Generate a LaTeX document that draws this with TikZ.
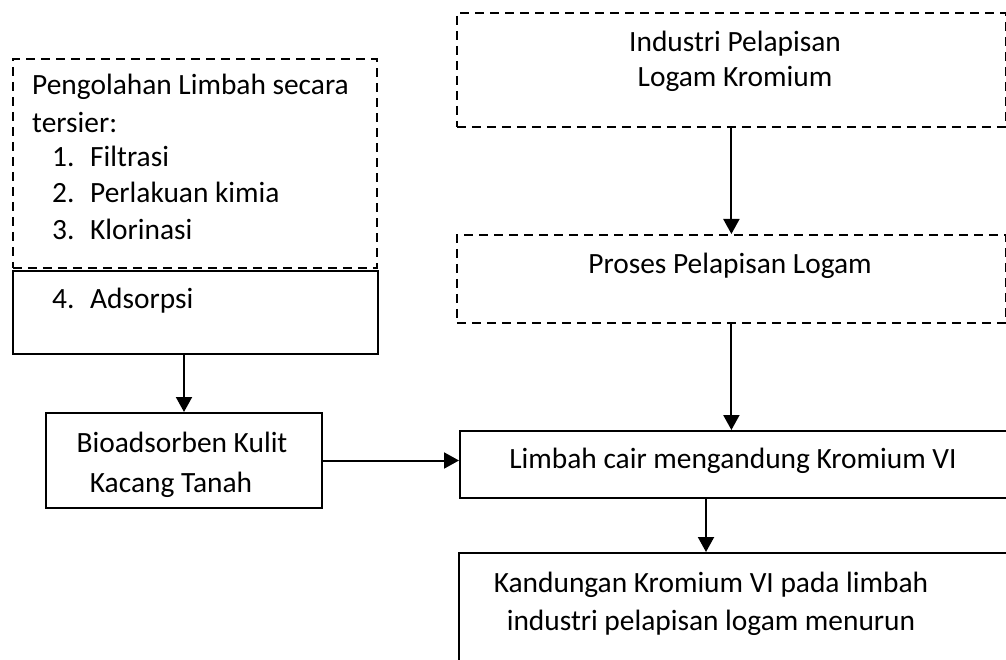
\documentclass[tikz,border=0pt]{standalone}
\usepackage{fontspec}
\setmainfont{Carlito}
\usetikzlibrary{arrows.meta,positioning,calc}

\tikzset{
  kotak/.style={draw,rectangle,line width=2pt,anchor=north west,inner sep=0pt},
  kotakputus/.style={kotak,line width=1.8pt,dash pattern=on 9pt off 6pt},
  teks/.style={inner sep=0pt,font=\fontsize{29.4}{37}\selectfont},
  panah/.style={-{Triangle[width=16pt,length=15pt]},line width=2pt},
}

\begin{document}
\begin{tikzpicture}[x=1pt,y=-1pt]
  % Rahmen
  \useasboundingbox (0,0) rectangle (1006,660);
  \clip (0,0) rectangle (1006,660);

  % Kotak kiri
  \node[kotakputus,minimum width=364pt,minimum height=209pt] (tersier) at (12,58) {};
  \node[kotak,minimum width=365pt,minimum height=83pt] (adsorpsi) at (12,270) {};
  \node[kotak,minimum width=276pt,minimum height=95pt] (bio) at (45,412) {};

  % Kotak kanan
  \node[kotakputus,minimum width=549pt,minimum height=114pt] (industri) at (456,12) {};
  \node[kotakputus,minimum width=549pt,minimum height=88pt] (proses) at (456,234) {};
  \node[kotak,minimum width=560pt,minimum height=67pt] (limbah) at (459,430) {};
  \node[kotak,minimum width=560pt,minimum height=140pt] (kandungan) at (458,552) {};

  % Teks kiri
  \node[teks,anchor=base west] (judul1) at (32,95) {Pengolahan Limbah secara};
  \node[teks,anchor=base west] (judul2) at (32,133) {tersier:};
  \foreach \n/\isi/\y in {1/Filtrasi/167, 2/Perlakuan kimia/203, 3/Klorinasi/240, 4/Adsorpsi/308} {
      \node[teks,anchor=base west] (no\n) at (52,\y) {\n.};
      \node[teks,anchor=base west] (butir\n) at (90,\y) {\isi};
  }
  \node[teks,anchor=base] (bio1) at (182,452) {Bioadsorben Kulit};
  \node[teks,anchor=base] (bio2) at (171,492) {Kacang Tanah};

  % Teks kanan
  \node[teks,anchor=base] (industri1) at (735,52) {Industri Pelapisan};
  \node[teks,anchor=base] (industri2) at (735,87) {Logam Kromium};
  \node[teks,anchor=base] (proses1) at (730,273) {Proses Pelapisan Logam};
  \node[teks,anchor=base] (limbah1) at (733,468) {Limbah cair mengandung Kromium VI};
  \node[teks,anchor=base] (hasil1) at (711,592) {Kandungan Kromium VI pada limbah};
  \node[teks,anchor=base] (hasil2) at (711,630) {industri pelapisan logam menurun};

  % Panah
  \coordinate (hasilin) at ([xshift=248pt]kandungan.north west);
  \draw[panah] (adsorpsi.south -| bio.north) -- (bio.north);
  \draw[panah] (bio.east) -- (bio.east -| limbah.west);
  \draw[panah] (industri.south) -- (proses.north);
  \draw[panah] (proses.south) -- (proses.south |- limbah.north);
  \draw[panah] (limbah.south -| hasilin) -- (hasilin);
\end{tikzpicture}
\end{document}
